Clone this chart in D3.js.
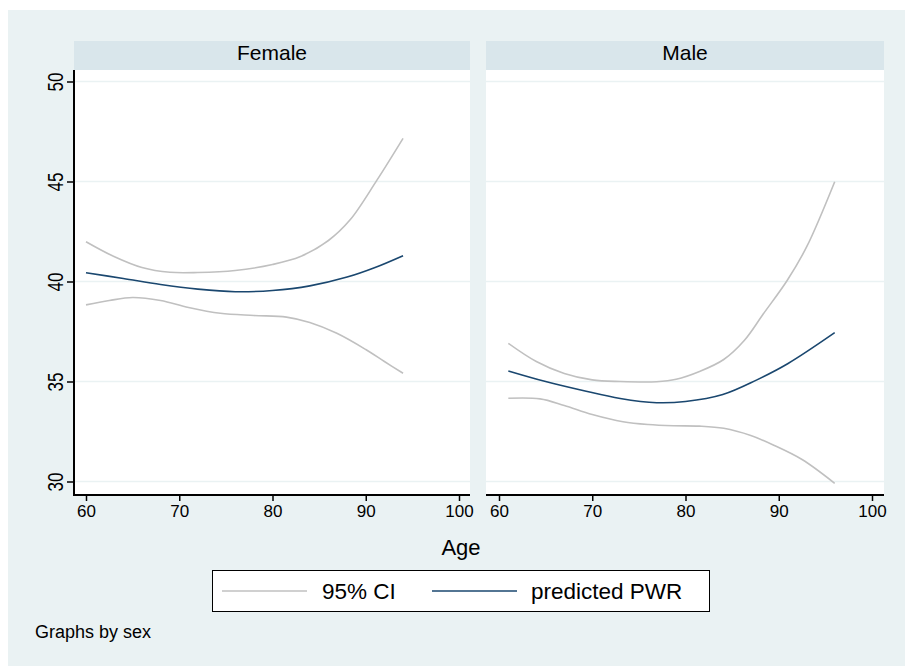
<!DOCTYPE html>
<html>
<head>
<meta charset="utf-8">
<script src="https://cdn.jsdelivr.net/npm/d3@7"></script>
<style>
  body { margin: 0; background: #fff; }
  text { font-family: "Liberation Sans", Arial, Helvetica, sans-serif; fill: #000; }
</style>
</head>
<body>
<div id="chart"></div>
<script>
// panels (graphs by sex)
var panels = ["Female", "Male"];
var yTicks = [30, 35, 40, 45, 50];
var xTicks = [60, 70, 80, 90, 100];
var legendLabels = ["95% CI", "predicted PWR"];

// Female fitted values
var femaleFitAge = [60, 64, 68, 72, 76, 80, 84, 88, 91, 94];
var femaleFit    = [40.44, 40.15, 39.85, 39.62, 39.49, 39.55, 39.78, 40.22, 40.7, 41.29];
var femaleHiAge  = [60, 63, 66, 69, 72, 76, 80, 83, 86, 88.3, 91.2, 94];
var femaleHi     = [41.99, 41.25, 40.7, 40.46, 40.45, 40.55, 40.85, 41.25, 42.05, 43.07, 45.07, 47.16];
var femaleLoAge  = [60, 62.5, 65, 68, 71, 74.4, 78, 81.5, 84, 86.9, 90, 92, 94];
var femaleLo     = [38.83, 39.05, 39.2, 39.05, 38.7, 38.41, 38.3, 38.22, 37.95, 37.41, 36.6, 36.0, 35.41];

// Male fitted values
var maleFitAge = [61, 65, 69, 73, 76.9, 80, 84, 87.6, 91, 96];
var maleFit    = [35.53, 35.0, 34.55, 34.15, 33.94, 34.0, 34.35, 35.07, 35.9, 37.44];
var maleHiAge  = [61, 64, 67, 70, 73, 76.9, 79, 81.5, 84.1, 86.3, 88.3, 90.9, 93, 96];
var maleHi     = [36.91, 36.0, 35.4, 35.08, 35.0, 34.99, 35.11, 35.5, 36.1, 37.05, 38.35, 40.05, 41.74, 44.99];
var maleLoAge  = [61, 64.4, 67, 70, 73.3, 76, 78.7, 81.5, 84.1, 87, 89.4, 92.5, 96];
var maleLo     = [34.16, 34.13, 33.8, 33.35, 32.99, 32.85, 32.79, 32.77, 32.66, 32.3, 31.83, 31.1, 29.91];

var ciColor = "#c0c0c0", fitColor = "#1a476f";
var bgColor = "#eaf2f3", stripColor = "#d9e6eb";

var width = 905, height = 666;
var svg = d3.select("#chart").append("svg")
  .attr("width", width).attr("height", height);

svg.append("rect").attr("x", 8).attr("y", 10)
  .attr("width", width - 8).attr("height", height - 10)
  .attr("fill", bgColor);

function zip(a, b) { return a.map((x, i) => [x, b[i]]); }

var panelData = [
  { name: panels[0], left: 74, right: 470, r0: 86, r1: 459,
    fit: zip(femaleFitAge, femaleFit), hi: zip(femaleHiAge, femaleHi), lo: zip(femaleLoAge, femaleLo) },
  { name: panels[1], left: 486, right: 884, r0: 499, r1: 872,
    fit: zip(maleFitAge, maleFit), hi: zip(maleHiAge, maleHi), lo: zip(maleLoAge, maleLo) }
];

var stripTop = 41, plotTop = 70, plotBottom = 495;
var y = d3.scaleLinear().domain([30, 50]).range([481.5, 81.5]);

panelData.forEach(function(p, pi) {
  var x = d3.scaleLinear().domain([60, 100]).range([p.r0, p.r1]);
  var g = svg.append("g");

  // strip
  g.append("rect").attr("x", p.left).attr("y", stripTop)
    .attr("width", p.right - p.left).attr("height", plotTop - stripTop)
    .attr("fill", stripColor);
  g.append("text").attr("x", (p.left + p.right) / 2).attr("y", 60)
    .attr("text-anchor", "middle").attr("font-size", 21).text(p.name);

  // plot region
  g.append("rect").attr("x", p.left).attr("y", plotTop)
    .attr("width", p.right - p.left).attr("height", plotBottom - plotTop)
    .attr("fill", "#fff");

  // gridlines
  g.selectAll(".grid").data(yTicks).enter().append("line")
    .attr("x1", p.left).attr("x2", p.right)
    .attr("y1", d => y(d)).attr("y2", d => y(d))
    .attr("stroke", bgColor).attr("stroke-width", 1.5);

  var line = d3.line().x(d => x(d[0])).y(d => y(d[1])).curve(d3.curveCatmullRom.alpha(0.5));

  [p.hi, p.lo].forEach(function(s) {
    g.append("path").datum(s).attr("d", line)
      .attr("fill", "none").attr("stroke", ciColor).attr("stroke-width", 1.6);
  });
  g.append("path").datum(p.fit).attr("d", line)
    .attr("fill", "none").attr("stroke", fitColor).attr("stroke-width", 1.6);

  // x axis
  var xAxis = d3.axisBottom(x).tickValues(xTicks).tickSize(6).tickSizeOuter(0).tickPadding(4);
  var ax = g.append("g").attr("transform", "translate(0," + plotBottom + ")").call(xAxis);
  ax.select(".domain").remove();
  ax.append("line").attr("x1", p.left).attr("x2", p.right)
    .attr("stroke", "#000").attr("stroke-width", 2);
  ax.selectAll(".tick line").attr("stroke", "#000").attr("stroke-width", 1.5);
  ax.selectAll(".tick text").attr("font-size", 17)
    .attr("font-family", "Liberation Sans, Arial, sans-serif").attr("fill", "#000");

  // y axis only on the first panel
  if (pi === 0) {
    var yAxis = d3.axisLeft(y).tickValues(yTicks).tickSize(7).tickSizeOuter(0).tickPadding(0);
    var ay = g.append("g").attr("transform", "translate(" + p.left + ",0)").call(yAxis);
    ay.select(".domain").remove();
    ay.append("line").attr("y1", plotTop).attr("y2", plotBottom + 1)
      .attr("stroke", "#000").attr("stroke-width", 2);
    ay.selectAll(".tick line").attr("stroke", "#000").attr("stroke-width", 1.5);
    ay.selectAll(".tick text")
      .attr("font-size", 17)
      .attr("font-family", "Liberation Sans, Arial, sans-serif").attr("fill", "#000")
      .attr("text-anchor", "middle")
      .attr("x", null).attr("dy", null)
      .attr("transform", "translate(-11,0) rotate(-90) scale(1,1.3)")
      .attr("y", 0);
  }
});

// x axis title
svg.append("text").attr("x", 461).attr("y", 555)
  .attr("text-anchor", "middle").attr("font-size", 22).text("Age");

// legend
var lg = svg.append("g");
lg.append("rect").attr("x", 212.5).attr("y", 570.5).attr("width", 497).attr("height", 41)
  .attr("fill", "#fff").attr("stroke", "#000").attr("stroke-width", 1);
var legendItems = [
  { label: legendLabels[0], color: ciColor, x0: 222, x1: 307, tx: 322 },
  { label: legendLabels[1], color: fitColor, x0: 432, x1: 517, tx: 531 }
];
legendItems.forEach(function(d) {
  lg.append("line").attr("x1", d.x0).attr("x2", d.x1).attr("y1", 591).attr("y2", 591)
    .attr("stroke", d.color).attr("stroke-width", 1.6);
  lg.append("text").attr("x", d.tx).attr("y", 599).attr("font-size", 22.5).text(d.label);
});

svg.append("text").attr("x", 35).attr("y", 638).attr("font-size", 18).text("Graphs by sex");
</script>
</body>
</html>
